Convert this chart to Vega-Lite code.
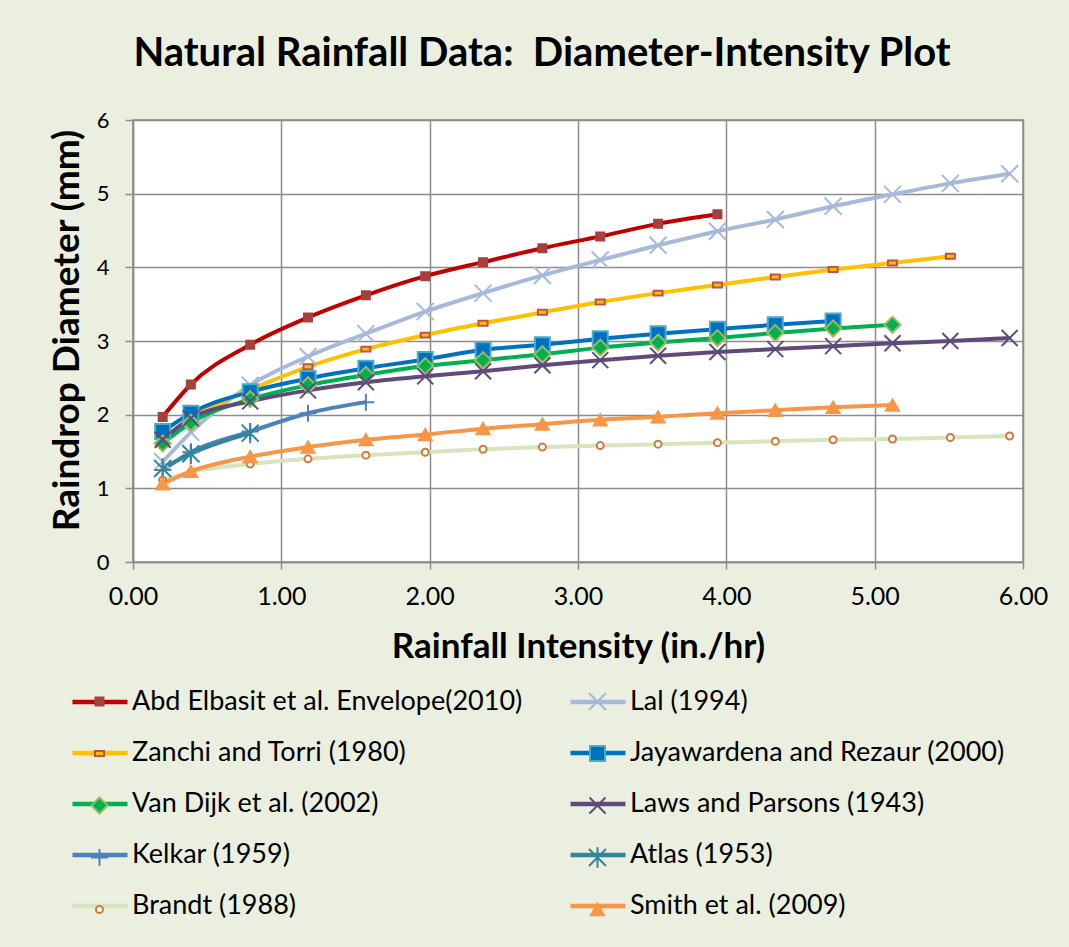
{
  "$schema": "https://vega.github.io/schema/vega-lite/v6.json",
  "width": 890,
  "height": 442,
  "autosize": {"type": "none"},
  "padding": {"left": 133, "top": 120, "right": 46, "bottom": 385},
  "background": "#ebefe0",
  "title": {
    "text": "Natural Rainfall Data: \u00a0Diameter-Intensity Plot",
    "font": "Lato",
    "fontSize": 40,
    "fontWeight": "bold",
    "color": "black",
    "anchor": "middle",
    "frame": "group",
    "dx": -36,
    "baseline": "alphabetic",
    "offset": 3
  },
  "data": {
    "values": [
      {"series": "Abd Elbasit et al. Envelope(2010)", "x": 0.20, "y": 1.97},
      {"series": "Abd Elbasit et al. Envelope(2010)", "x": 0.39, "y": 2.41},
      {"series": "Abd Elbasit et al. Envelope(2010)", "x": 0.79, "y": 2.95},
      {"series": "Abd Elbasit et al. Envelope(2010)", "x": 1.18, "y": 3.32},
      {"series": "Abd Elbasit et al. Envelope(2010)", "x": 1.57, "y": 3.62},
      {"series": "Abd Elbasit et al. Envelope(2010)", "x": 1.97, "y": 3.88},
      {"series": "Abd Elbasit et al. Envelope(2010)", "x": 2.36, "y": 4.07},
      {"series": "Abd Elbasit et al. Envelope(2010)", "x": 2.76, "y": 4.26},
      {"series": "Abd Elbasit et al. Envelope(2010)", "x": 3.15, "y": 4.42},
      {"series": "Abd Elbasit et al. Envelope(2010)", "x": 3.54, "y": 4.59},
      {"series": "Abd Elbasit et al. Envelope(2010)", "x": 3.94, "y": 4.72},

      {"series": "Lal (1994)", "x": 0.20, "y": 1.36},
      {"series": "Lal (1994)", "x": 0.39, "y": 1.76},
      {"series": "Lal (1994)", "x": 0.79, "y": 2.40},
      {"series": "Lal (1994)", "x": 1.18, "y": 2.79},
      {"series": "Lal (1994)", "x": 1.57, "y": 3.10},
      {"series": "Lal (1994)", "x": 1.97, "y": 3.40},
      {"series": "Lal (1994)", "x": 2.36, "y": 3.65},
      {"series": "Lal (1994)", "x": 2.76, "y": 3.89},
      {"series": "Lal (1994)", "x": 3.15, "y": 4.10},
      {"series": "Lal (1994)", "x": 3.54, "y": 4.30},
      {"series": "Lal (1994)", "x": 3.94, "y": 4.49},
      {"series": "Lal (1994)", "x": 4.33, "y": 4.65},
      {"series": "Lal (1994)", "x": 4.72, "y": 4.83},
      {"series": "Lal (1994)", "x": 5.12, "y": 4.99},
      {"series": "Lal (1994)", "x": 5.51, "y": 5.14},
      {"series": "Lal (1994)", "x": 5.91, "y": 5.27},

      {"series": "Zanchi and Torri (1980)", "x": 0.39, "y": 1.97},
      {"series": "Zanchi and Torri (1980)", "x": 0.79, "y": 2.34},
      {"series": "Zanchi and Torri (1980)", "x": 1.18, "y": 2.65},
      {"series": "Zanchi and Torri (1980)", "x": 1.57, "y": 2.89},
      {"series": "Zanchi and Torri (1980)", "x": 1.97, "y": 3.08},
      {"series": "Zanchi and Torri (1980)", "x": 2.36, "y": 3.24},
      {"series": "Zanchi and Torri (1980)", "x": 2.76, "y": 3.39},
      {"series": "Zanchi and Torri (1980)", "x": 3.15, "y": 3.53},
      {"series": "Zanchi and Torri (1980)", "x": 3.54, "y": 3.65},
      {"series": "Zanchi and Torri (1980)", "x": 3.94, "y": 3.76},
      {"series": "Zanchi and Torri (1980)", "x": 4.33, "y": 3.87},
      {"series": "Zanchi and Torri (1980)", "x": 4.72, "y": 3.97},
      {"series": "Zanchi and Torri (1980)", "x": 5.12, "y": 4.06},
      {"series": "Zanchi and Torri (1980)", "x": 5.51, "y": 4.15},

      {"series": "Jayawardena and Rezaur (2000)", "x": 0.20, "y": 1.77},
      {"series": "Jayawardena and Rezaur (2000)", "x": 0.39, "y": 2.02},
      {"series": "Jayawardena and Rezaur (2000)", "x": 0.79, "y": 2.31},
      {"series": "Jayawardena and Rezaur (2000)", "x": 1.18, "y": 2.49},
      {"series": "Jayawardena and Rezaur (2000)", "x": 1.57, "y": 2.63},
      {"series": "Jayawardena and Rezaur (2000)", "x": 1.97, "y": 2.75},
      {"series": "Jayawardena and Rezaur (2000)", "x": 2.36, "y": 2.88},
      {"series": "Jayawardena and Rezaur (2000)", "x": 2.76, "y": 2.95},
      {"series": "Jayawardena and Rezaur (2000)", "x": 3.15, "y": 3.03},
      {"series": "Jayawardena and Rezaur (2000)", "x": 3.54, "y": 3.10},
      {"series": "Jayawardena and Rezaur (2000)", "x": 3.94, "y": 3.16},
      {"series": "Jayawardena and Rezaur (2000)", "x": 4.33, "y": 3.22},
      {"series": "Jayawardena and Rezaur (2000)", "x": 4.72, "y": 3.27},

      {"series": "Van Dijk et al. (2002)", "x": 0.20, "y": 1.61},
      {"series": "Van Dijk et al. (2002)", "x": 0.39, "y": 1.89},
      {"series": "Van Dijk et al. (2002)", "x": 0.79, "y": 2.21},
      {"series": "Van Dijk et al. (2002)", "x": 1.18, "y": 2.40},
      {"series": "Van Dijk et al. (2002)", "x": 1.57, "y": 2.54},
      {"series": "Van Dijk et al. (2002)", "x": 1.97, "y": 2.66},
      {"series": "Van Dijk et al. (2002)", "x": 2.36, "y": 2.74},
      {"series": "Van Dijk et al. (2002)", "x": 2.76, "y": 2.82},
      {"series": "Van Dijk et al. (2002)", "x": 3.15, "y": 2.91},
      {"series": "Van Dijk et al. (2002)", "x": 3.54, "y": 2.98},
      {"series": "Van Dijk et al. (2002)", "x": 3.94, "y": 3.04},
      {"series": "Van Dijk et al. (2002)", "x": 4.33, "y": 3.11},
      {"series": "Van Dijk et al. (2002)", "x": 4.72, "y": 3.17},
      {"series": "Van Dijk et al. (2002)", "x": 5.12, "y": 3.22},

      {"series": "Laws and Parsons (1943)", "x": 0.20, "y": 1.66},
      {"series": "Laws and Parsons (1943)", "x": 0.39, "y": 1.95},
      {"series": "Laws and Parsons (1943)", "x": 0.79, "y": 2.18},
      {"series": "Laws and Parsons (1943)", "x": 1.18, "y": 2.33},
      {"series": "Laws and Parsons (1943)", "x": 1.57, "y": 2.44},
      {"series": "Laws and Parsons (1943)", "x": 1.97, "y": 2.52},
      {"series": "Laws and Parsons (1943)", "x": 2.36, "y": 2.59},
      {"series": "Laws and Parsons (1943)", "x": 2.76, "y": 2.67},
      {"series": "Laws and Parsons (1943)", "x": 3.15, "y": 2.74},
      {"series": "Laws and Parsons (1943)", "x": 3.54, "y": 2.80},
      {"series": "Laws and Parsons (1943)", "x": 3.94, "y": 2.85},
      {"series": "Laws and Parsons (1943)", "x": 4.33, "y": 2.89},
      {"series": "Laws and Parsons (1943)", "x": 4.72, "y": 2.93},
      {"series": "Laws and Parsons (1943)", "x": 5.12, "y": 2.97},
      {"series": "Laws and Parsons (1943)", "x": 5.51, "y": 3.00},
      {"series": "Laws and Parsons (1943)", "x": 5.91, "y": 3.04},

      {"series": "Kelkar (1959)", "x": 0.20, "y": 1.25},
      {"series": "Kelkar (1959)", "x": 0.39, "y": 1.49},
      {"series": "Kelkar (1959)", "x": 0.79, "y": 1.77},
      {"series": "Kelkar (1959)", "x": 1.18, "y": 2.02},
      {"series": "Kelkar (1959)", "x": 1.57, "y": 2.17},

      {"series": "Atlas (1953)", "x": 0.20, "y": 1.27},
      {"series": "Atlas (1953)", "x": 0.39, "y": 1.47},
      {"series": "Atlas (1953)", "x": 0.79, "y": 1.75},

      {"series": "Brandt (1988)", "x": 0.20, "y": 1.11},
      {"series": "Brandt (1988)", "x": 0.39, "y": 1.22},
      {"series": "Brandt (1988)", "x": 0.79, "y": 1.33},
      {"series": "Brandt (1988)", "x": 1.18, "y": 1.40},
      {"series": "Brandt (1988)", "x": 1.57, "y": 1.45},
      {"series": "Brandt (1988)", "x": 1.97, "y": 1.49},
      {"series": "Brandt (1988)", "x": 2.36, "y": 1.53},
      {"series": "Brandt (1988)", "x": 2.76, "y": 1.56},
      {"series": "Brandt (1988)", "x": 3.15, "y": 1.58},
      {"series": "Brandt (1988)", "x": 3.54, "y": 1.60},
      {"series": "Brandt (1988)", "x": 3.94, "y": 1.62},
      {"series": "Brandt (1988)", "x": 4.33, "y": 1.64},
      {"series": "Brandt (1988)", "x": 4.72, "y": 1.66},
      {"series": "Brandt (1988)", "x": 5.12, "y": 1.67},
      {"series": "Brandt (1988)", "x": 5.51, "y": 1.69},
      {"series": "Brandt (1988)", "x": 5.91, "y": 1.71},

      {"series": "Smith et al. (2009)", "x": 0.20, "y": 1.06},
      {"series": "Smith et al. (2009)", "x": 0.39, "y": 1.23},
      {"series": "Smith et al. (2009)", "x": 0.79, "y": 1.43},
      {"series": "Smith et al. (2009)", "x": 1.18, "y": 1.56},
      {"series": "Smith et al. (2009)", "x": 1.57, "y": 1.66},
      {"series": "Smith et al. (2009)", "x": 1.97, "y": 1.73},
      {"series": "Smith et al. (2009)", "x": 2.36, "y": 1.81},
      {"series": "Smith et al. (2009)", "x": 2.76, "y": 1.87},
      {"series": "Smith et al. (2009)", "x": 3.15, "y": 1.93},
      {"series": "Smith et al. (2009)", "x": 3.54, "y": 1.97},
      {"series": "Smith et al. (2009)", "x": 3.94, "y": 2.02},
      {"series": "Smith et al. (2009)", "x": 4.33, "y": 2.06},
      {"series": "Smith et al. (2009)", "x": 4.72, "y": 2.10},
      {"series": "Smith et al. (2009)", "x": 5.12, "y": 2.13}
    ]
  },
  "encoding": {
    "x": {
      "field": "x",
      "type": "quantitative",
      "scale": {"domain": [0, 6], "nice": false},
      "axis": {
        "title": "Rainfall Intensity (in./hr)",
        "values": [0, 1, 2, 3, 4, 5, 6],
        "format": ".2f",
        "labelFontSize": 25,
        "labelPadding": 15,
        "labelFlush": false,
        "tickSize": 7,
        "titleFontSize": 35,
        "titleX": 445,
        "titleY": 95,
        "titleBaseline": "alphabetic",
        "titleAlign": "center"
      }
    },
    "y": {
      "field": "y",
      "type": "quantitative",
      "scale": {"domain": [0, 6], "nice": false},
      "axis": {
        "title": "Raindrop Diameter (mm)",
        "values": [0, 1, 2, 3, 4, 5, 6],
        "format": "d",
        "labelFontSize": 22,
        "labelPadding": 16,
        "labelFlush": false,
        "tickSize": 8,
        "titleFontSize": 37,
        "titleAngle": -90,
        "titleX": -66,
        "titleY": 210,
        "titleBaseline": "middle",
        "titleAlign": "center"
      }
    }
  },
  "layer": [
    {
      "mark": {"type": "line", "strokeWidth": 4, "interpolate": "monotone"},
      "encoding": {
        "color": {
          "field": "series",
          "type": "nominal",
          "scale": {
            "domain": [
              "Abd Elbasit et al. Envelope(2010)", "Lal (1994)",
              "Zanchi and Torri (1980)", "Jayawardena and Rezaur (2000)",
              "Van Dijk et al. (2002)", "Laws and Parsons (1943)",
              "Kelkar (1959)", "Atlas (1953)",
              "Brandt (1988)", "Smith et al. (2009)"
            ],
            "range": ["#c00000", "#a7b9da", "#ffc000", "#0070c0", "#00b050", "#604a7b", "#4f81bd", "#31859c", "#d7e4bd", "#f79646"]
          },
          "legend": {
            "title": null,
            "symbolType": "stroke",
            "symbolSize": 3025,
            "symbolStrokeWidth": 4.5,
            "labelOffset": 2,
            "rowPadding": 8,
            "columnPadding": 38,
            "legendX": -63,
            "legendY": 552
          }
        }
      }
    },
    {
      "mark": {"type": "point", "opacity": 1, "strokeWidth": 2},
      "encoding": {
        "shape": {
          "field": "series",
          "type": "nominal",
          "scale": {
            "domain": [
              "Abd Elbasit et al. Envelope(2010)", "Lal (1994)",
              "Zanchi and Torri (1980)", "Jayawardena and Rezaur (2000)",
              "Van Dijk et al. (2002)", "Laws and Parsons (1943)",
              "Kelkar (1959)", "Atlas (1953)",
              "Brandt (1988)", "Smith et al. (2009)"
            ],
            "range": [
              "square",
              "M-1,-1L1,1M-1,1L1,-1",
              "M-1,-0.55H1V0.55H-1Z",
              "square",
              "diamond",
              "M-1,-1L1,1M-1,1L1,-1",
              "M-1,0H1M0,-1V1",
              "M-1,-1L1,1M-1,1L1,-1M0,-1.2V1.2",
              "circle",
              "triangle-up"
            ]
          },
          "legend": {
            "title": null,
            "symbolStrokeWidth": 2,
            "labelExpr": "''",
            "labelOffset": 0,
            "clipHeight": 27,
            "rowPadding": 24,
            "columnPadding": 471,
            "legendX": -47,
            "legendY": 568
          }
        },
        "fill": {
          "field": "series",
          "type": "nominal",
          "scale": {
            "domain": [
              "Abd Elbasit et al. Envelope(2010)", "Lal (1994)",
              "Zanchi and Torri (1980)", "Jayawardena and Rezaur (2000)",
              "Van Dijk et al. (2002)", "Laws and Parsons (1943)",
              "Kelkar (1959)", "Atlas (1953)",
              "Brandt (1988)", "Smith et al. (2009)"
            ],
            "range": ["#a5403d", "transparent", "#ffc000", "#0070c0", "#00b050", "transparent", "transparent", "transparent", "#ffffff", "#f79646"]
          },
          "legend": {
            "title": null,
            "symbolStrokeWidth": 2,
            "labelExpr": "''",
            "labelOffset": 0,
            "clipHeight": 27,
            "rowPadding": 24,
            "columnPadding": 471,
            "legendX": -47,
            "legendY": 568
          }
        },
        "stroke": {
          "field": "series",
          "type": "nominal",
          "scale": {
            "domain": [
              "Abd Elbasit et al. Envelope(2010)", "Lal (1994)",
              "Zanchi and Torri (1980)", "Jayawardena and Rezaur (2000)",
              "Van Dijk et al. (2002)", "Laws and Parsons (1943)",
              "Kelkar (1959)", "Atlas (1953)",
              "Brandt (1988)", "Smith et al. (2009)"
            ],
            "range": ["#a5403d", "#a7b9da", "#c0504d", "#4bacc6", "#9bbb59", "#604a7b", "#4f81bd", "#31859c", "#cd7a3c", "#f79646"]
          },
          "legend": {
            "title": null,
            "symbolStrokeWidth": 2,
            "labelExpr": "''",
            "labelOffset": 0,
            "clipHeight": 27,
            "rowPadding": 24,
            "columnPadding": 471,
            "legendX": -47,
            "legendY": 568
          }
        },
        "size": {
          "field": "series",
          "type": "nominal",
          "scale": {
            "type": "ordinal",
            "domain": [
              "Abd Elbasit et al. Envelope(2010)", "Lal (1994)",
              "Zanchi and Torri (1980)", "Jayawardena and Rezaur (2000)",
              "Van Dijk et al. (2002)", "Laws and Parsons (1943)",
              "Kelkar (1959)", "Atlas (1953)",
              "Brandt (1988)", "Smith et al. (2009)"
            ],
            "range": [64, 289, 81, 225, 256, 256, 289, 289, 49, 169]
          },
          "legend": {
            "title": null,
            "symbolStrokeWidth": 2,
            "labelExpr": "''",
            "labelOffset": 0,
            "clipHeight": 27,
            "rowPadding": 24,
            "columnPadding": 471,
            "legendX": -47,
            "legendY": 568
          }
        }
      }
    }
  ],
  "resolve": {
    "scale": {"fill": "independent", "stroke": "independent", "shape": "independent", "size": "independent"}
  },
  "config": {
    "font": "Lato",
    "view": {"fill": "white", "stroke": "#8c8c8c", "strokeWidth": 1.5},
    "axis": {
      "grid": true,
      "gridColor": "#8c8c8c",
      "gridWidth": 1.5,
      "gridOpacity": 1,
      "domainColor": "#8c8c8c",
      "domainWidth": 1.5,
      "tickColor": "#8c8c8c",
      "tickWidth": 1.5,
      "labelColor": "black",
      "labelFont": "Lato",
      "titleColor": "black",
      "titleFont": "Lato",
      "titleFontWeight": "bold"
    },
    "legend": {
      "orient": "none",
      "direction": "horizontal",
      "columns": 2,
      "padding": 0,
      "labelFont": "Lato",
      "labelFontSize": 27,
      "labelColor": "black",
      "labelLimit": 600,
      "symbolOpacity": 1
    }
  }
}
